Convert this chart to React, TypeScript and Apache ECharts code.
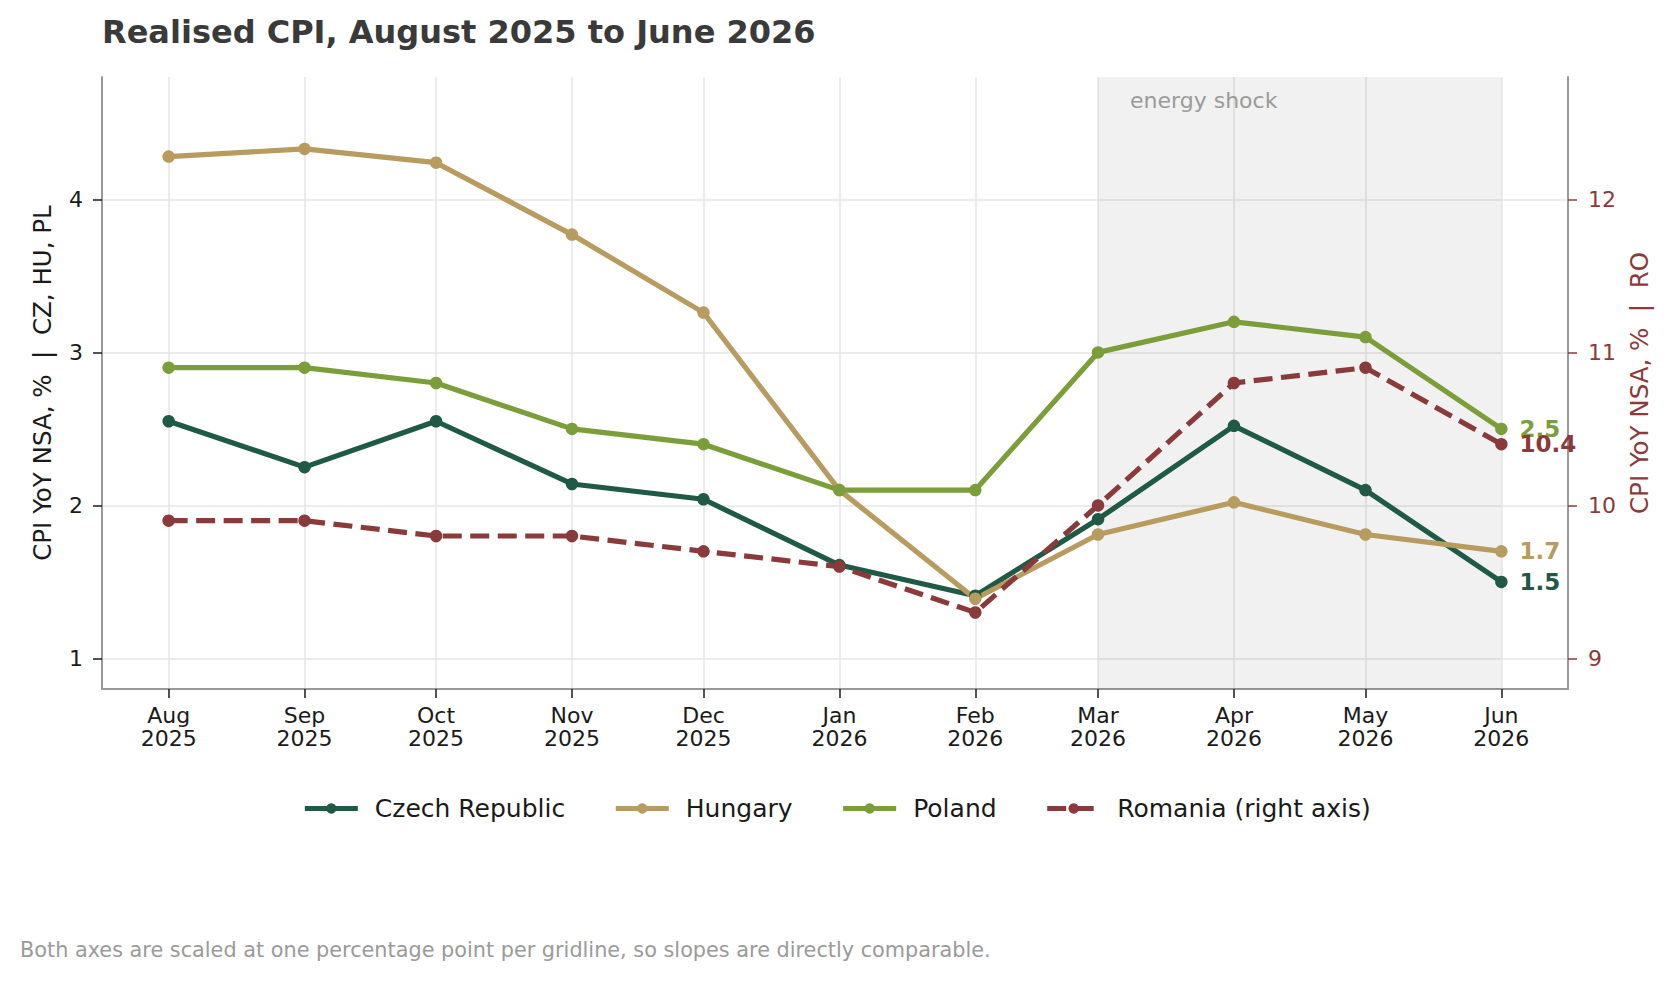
import React, { useEffect, useRef } from 'react';
import * as echarts from 'echarts';

const MONTHS = ['2025-08-01', '2025-09-01', '2025-10-01', '2025-11-01', '2025-12-01', '2026-01-01', '2026-02-01', '2026-03-01', '2026-04-01', '2026-05-01', '2026-06-01'];
const MONTH_LABELS = ['Aug\n2025', 'Sep\n2025', 'Oct\n2025', 'Nov\n2025', 'Dec\n2025', 'Jan\n2026', 'Feb\n2026', 'Mar\n2026', 'Apr\n2026', 'May\n2026', 'Jun\n2026'];

const CZECH = [2.55, 2.25, 2.55, 2.14, 2.04, 1.61, 1.41, 1.91, 2.52, 2.1, 1.5];
const HUNGARY = [4.28, 4.33, 4.24, 3.77, 3.26, 2.1, 1.39, 1.81, 2.02, 1.81, 1.7];
const POLAND = [2.9, 2.9, 2.8, 2.5, 2.4, 2.1, 2.1, 3.0, 3.2, 3.1, 2.5];
const ROMANIA = [9.9, 9.9, 9.8, 9.8, 9.7, 9.6, 9.3, 10.0, 10.8, 10.9, 10.4];

const LEFT_TICKS = [1, 2, 3, 4];
const RIGHT_TICKS = [9, 10, 11, 12];
const LEFT_RANGE = [0.8, 4.8];
const RIGHT_RANGE = [8.8, 12.8];

const SHADE = ['2026-03-01', '2026-06-01'];
const SHADE_LABEL = 'energy shock';

const TITLE = 'Realised CPI, August 2025 to June 2026';
const FOOTER = 'Both axes are scaled at one percentage point per gridline, so slopes are directly comparable.';
const LEFT_NAME = 'CPI YoY NSA, %  |  CZ, HU, PL';
const RIGHT_NAME = 'CPI YoY NSA, %  |  RO';

const C_CZ = '#1e5a45';
const C_HU = '#b89b5e';
const C_PL = '#7b9e3a';
const C_RO = '#8a3a3a';

const FONT = '"DejaVu Sans", sans-serif';
const DAY = 86400000;

function days(s: string): number {
  const [y, m, d] = s.split('-').map(Number);
  return Math.round(Date.UTC(y, m - 1, d) / DAY);
}

export default function App() {
  const ref = useRef<HTMLDivElement>(null);
  useEffect(() => {
    document.body.style.margin = '0';
    const chart = echarts.init(ref.current!, null, { renderer: 'svg' });
    const monthX = MONTHS.map(days);
    const span = monthX[monthX.length - 1] - monthX[0];
    const xMin = monthX[0] - span * 0.05;
    const xMax = monthX[monthX.length - 1] + span * 0.05;
    const last = monthX.length - 1;

    const mk = (name: string, vals: number[], color: string, yIndex: number, dashed: boolean, extra: any = {}) => ({
      name,
      type: 'line',
      yAxisIndex: yIndex,
      symbol: 'circle',
      symbolSize: 12.5,
      showSymbol: true,
      lineStyle: { width: 5.2, color, type: dashed ? [19, 8.5] : 'solid' },
      itemStyle: { color },
      label: { show: false },
      emphasis: { disabled: true },
      data: vals.map((v, i) =>
        i === last
          ? {
              value: [monthX[i], v],
              label: {
                show: true,
                position: 'right',
                distance: 12,
                color,
                fontFamily: FONT,
                fontWeight: 'bold',
                fontSize: 23,
                formatter: (p: any) => Number(p.value[1]).toFixed(1),
              },
            }
          : [monthX[i], v]
      ),
      ...extra,
    });

    const option: any = {
      animation: false,
      textStyle: { fontFamily: FONT },
      title: [
        {
          text: TITLE,
          left: 102,
          top: 16,
          padding: 0,
          textStyle: { fontFamily: FONT, fontWeight: 'bold', fontSize: 32, color: '#3a3a3a' },
        },
        {
          text: FOOTER,
          left: 20,
          top: 939,
          padding: 0,
          textStyle: { fontFamily: FONT, fontWeight: 'normal', fontSize: 20.8, color: '#9a9a9a' },
        },
      ],
      legend: {
        top: 791,
        left: 'center',
        itemWidth: 53,
        itemHeight: 13,
        itemGap: 48,
        lineStyle: { width: 5.2 },
        textStyle: { fontFamily: FONT, fontSize: 25, color: '#1a1a1a', padding: [0, 0, 0, 12] },
        data: ['Czech Republic', 'Hungary', 'Poland', 'Romania (right axis)'],
      },
      grid: { left: 102, right: 105, top: 77, bottom: 293, containLabel: false },
      xAxis: {
        type: 'value',
        min: xMin,
        max: xMax,
        axisLine: { show: true, onZero: false, lineStyle: { color: '#999999', width: 2 } },
        axisTick: { show: true, length: 9, lineStyle: { color: '#1a1a1a', width: 1.5 }, customValues: monthX },
        axisLabel: {
          show: true,
          customValues: monthX,
          margin: 15,
          fontFamily: FONT,
          fontSize: 22,
          lineHeight: 23,
          color: '#1a1a1a',
          formatter: (v: number) => {
            const idx = monthX.indexOf(Math.round(v));
            return idx >= 0 ? MONTH_LABELS[idx] : '';
          },
        },
        splitLine: { show: true, lineStyle: { color: '#e6e6e6', width: 1.5 } },
      },
      yAxis: [
        {
          type: 'value',
          position: 'left',
          min: LEFT_RANGE[0],
          max: LEFT_RANGE[1],
          name: LEFT_NAME,
          nameLocation: 'middle',
          nameRotate: 90,
          nameGap: 47,
          nameTextStyle: { fontFamily: FONT, fontSize: 24.5, color: '#1a1a1a' },
          axisLine: { show: true, onZero: false, lineStyle: { color: '#999999', width: 2 } },
          axisTick: { show: true, length: 9, lineStyle: { color: '#1a1a1a', width: 1.5 }, customValues: LEFT_TICKS },
          axisLabel: {
            customValues: LEFT_TICKS,
            margin: 19,
            fontFamily: FONT,
            fontSize: 22,
            color: '#1a1a1a',
            formatter: (v: number) => String(v),
          },
          splitLine: { show: true, lineStyle: { color: '#e6e6e6', width: 1.5 } },
        },
        {
          type: 'value',
          position: 'right',
          min: RIGHT_RANGE[0],
          max: RIGHT_RANGE[1],
          name: RIGHT_NAME,
          nameLocation: 'middle',
          nameRotate: 90,
          nameGap: 58,
          nameTextStyle: { fontFamily: FONT, fontSize: 24.5, color: C_RO },
          axisLine: { show: true, onZero: false, lineStyle: { color: '#999999', width: 2 } },
          axisTick: { show: true, length: 9, lineStyle: { color: C_RO, width: 1.5 }, customValues: RIGHT_TICKS },
          axisLabel: {
            customValues: RIGHT_TICKS,
            margin: 20,
            fontFamily: FONT,
            fontSize: 22,
            color: C_RO,
            formatter: (v: number) => String(v),
          },
          splitLine: { show: false },
        },
      ],
      series: [
        mk('Czech Republic', CZECH, C_CZ, 0, false, {
          markArea: {
            silent: true,
            itemStyle: { color: 'rgba(0,0,0,0.055)' },
            label: {
              show: true,
              position: [32, 12],
              color: '#9a9a9a',
              fontFamily: FONT,
              fontSize: 22,
            },
            data: [[{ xAxis: days(SHADE[0]), name: SHADE_LABEL }, { xAxis: days(SHADE[1]) }]],
          },
        }),
        mk('Hungary', HUNGARY, C_HU, 0, false),
        mk('Poland', POLAND, C_PL, 0, false),
        mk('Romania (right axis)', ROMANIA, C_RO, 1, true),
      ],
    };
    chart.setOption(option);
    return () => chart.dispose();
  }, []);
  return <div ref={ref} style={{ width: 1673, height: 982 }} />;
}
